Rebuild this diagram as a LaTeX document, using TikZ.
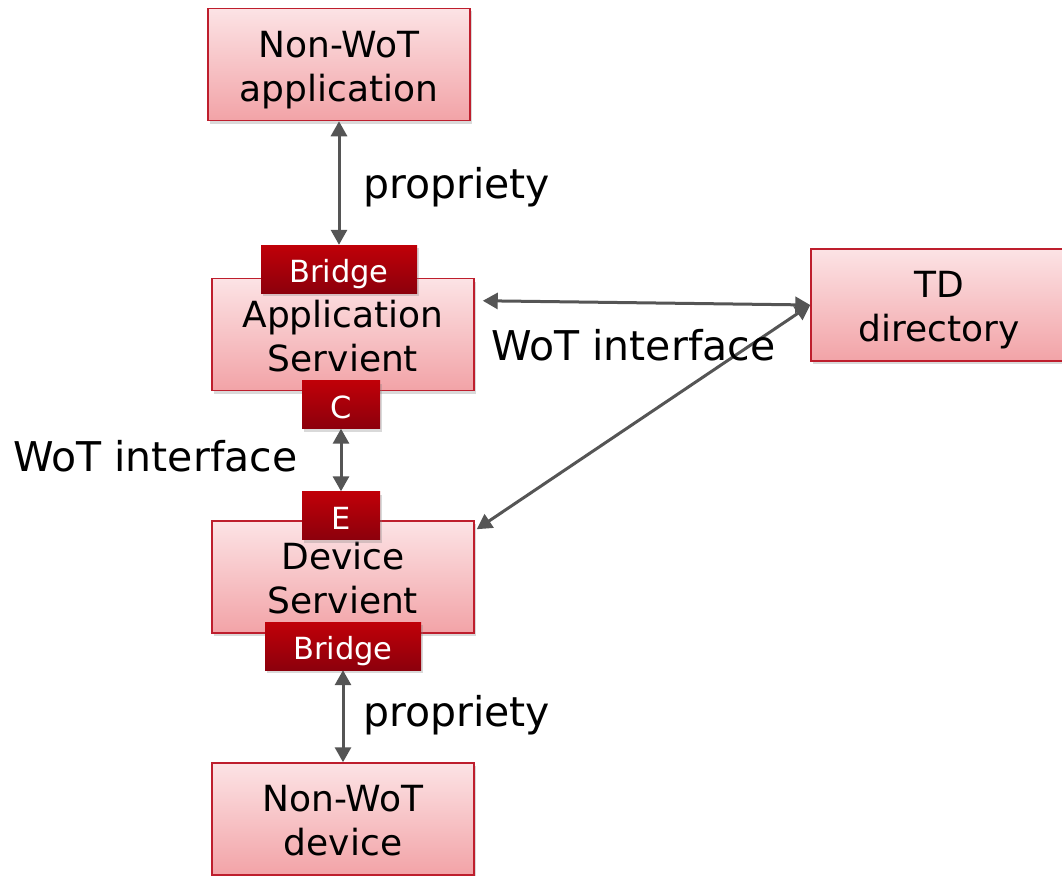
\documentclass[tikz,border=0pt]{standalone}
\usepackage{fontspec}
\setmainfont{DejaVu Sans}
\usetikzlibrary{arrows.meta,shadows,calc}

\definecolor{boxtop}{HTML}{FCE3E5}
\definecolor{boxbottom}{HTML}{F2A3A7}
\definecolor{boxline}{HTML}{BE1E2D}
\definecolor{tagtop}{HTML}{C00008}
\definecolor{tagbottom}{HTML}{8C000C}
\definecolor{linkgray}{HTML}{555555}

% two centred lines whose baseline is the first line
\newcommand{\twolines}[2]{\begin{tabular}[t]{@{}c@{}}#1\\#2\end{tabular}}

\tikzset{
  unit/.style={rectangle, draw=boxline, line width=1.5pt,
    top color=boxtop, bottom color=boxbottom,
    minimum width=262pt, minimum height=112pt, inner sep=0pt,
    text=black, font=\fontsize{36}{44}\selectfont,
    text height=30pt, text depth=45pt,
    drop shadow={opacity=0.3, shadow xshift=2pt, shadow yshift=-3pt}},
  tag/.style={rectangle, draw=none,
    top color=tagtop, bottom color=tagbottom,
    minimum height=48pt, inner sep=0pt, text=white,
    font=\fontsize{30.5}{32}\selectfont,
    text height=28pt, text depth=0.5pt,
    drop shadow={opacity=0.3, shadow xshift=2pt, shadow yshift=-3pt}},
  link/.style={draw=linkgray, line width=3pt,
    {Triangle[width=16pt,length=15pt]}-{Triangle[width=16pt,length=15pt]}},
  caption/.style={inner sep=0pt, anchor=base west, text=black,
    font=\fontsize{41}{44}\selectfont}
}

\begin{document}
\begin{tikzpicture}[x=1pt,y=-1pt]
\useasboundingbox (0,0) rectangle (1062,875);

% servients, non-WoT endpoints and the directory
\node[unit] (napp) at (339,64.5) {\twolines{Non-WoT}{application}};
\node[unit] (apps) at (343,334.5) {\twolines{Application}{Servient}};
\node[unit] (devs) at (343,577) {\twolines{Device}{Servient}};
\node[unit] (ndev) at (343,819) {\twolines{Non-WoT}{device}};
\node[unit, minimum width=256pt] (tdd) at (939,305) {\twolines{TD}{directory}};

% binding tags on the servients
\node[tag, minimum width=156pt] (brA) at (339,269) {Bridge};
\node[tag, minimum width=78pt]  (cli) at (341,404.5) {C};
\node[tag, minimum width=78pt]  (exp) at (341,515.5) {E};
\node[tag, minimum width=156pt] (brD) at (343,646) {Bridge};

% connections
\draw[link] (napp.south) -- (brA.north);
\draw[link] (cli.south) -- (exp.north);
\draw[link] (brD.south) -- (ndev.north);
\draw[link] ($(apps.north east)+(8,23)$) -- (tdd.west);
\draw[link] (tdd.west) -- ($(devs.north east)+(2,9)$);

% labels
\node[caption] (p1) at (363,198) {propriety};
\node[caption] (p2) at (363,726) {propriety};
\node[caption] (w1) at (13,471) {WoT interface};
\node[caption] (w2) at (491,360) {WoT interface};
\end{tikzpicture}
\end{document}
